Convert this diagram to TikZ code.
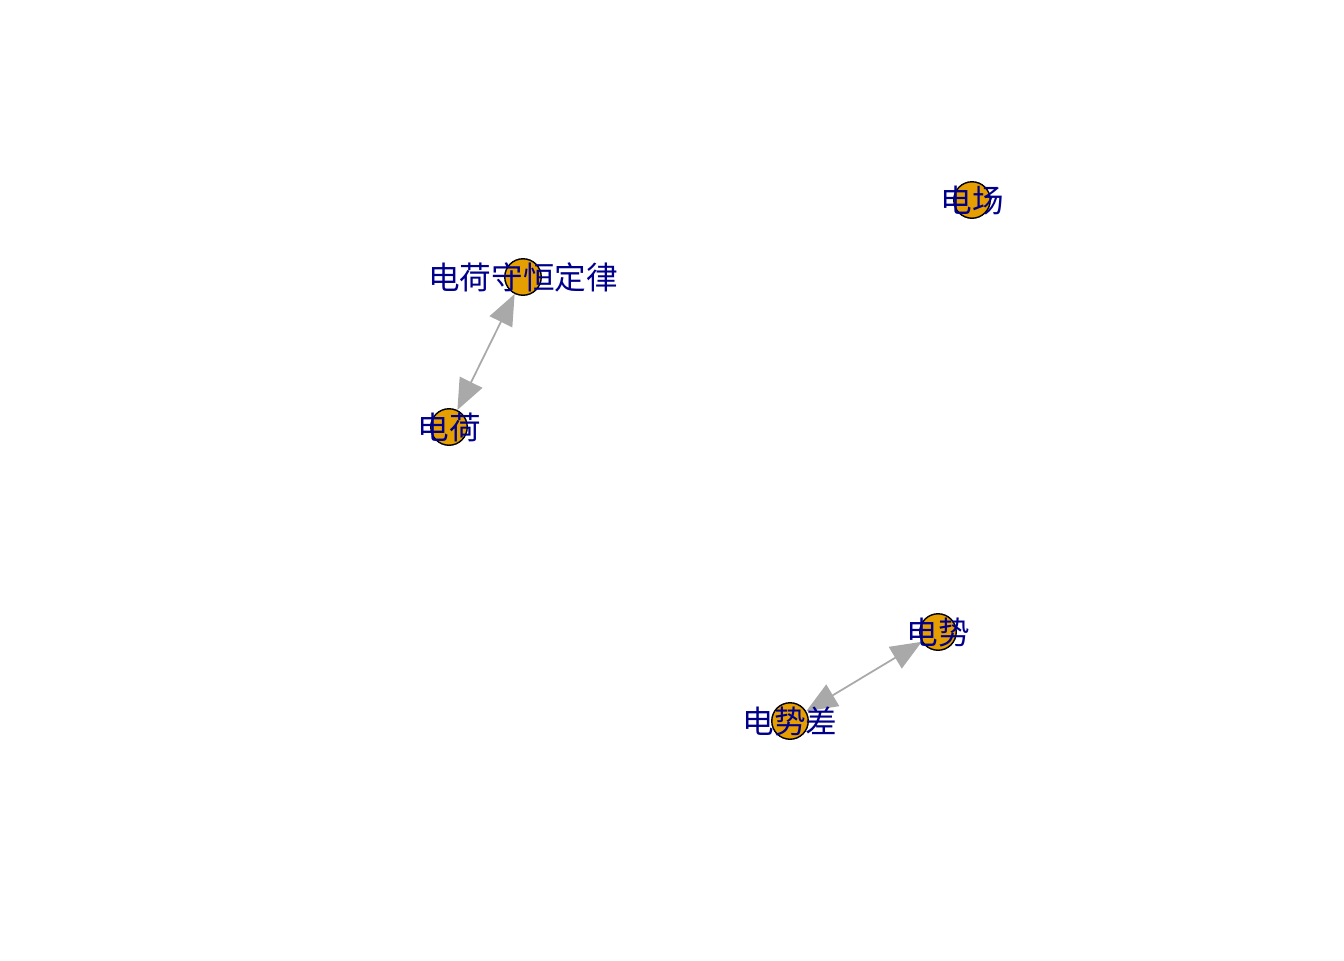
\documentclass[tikz,border=0pt]{standalone}
\usepackage{fontspec}
\newfontfamily\cjk{Noto Sans CJK SC}
\usetikzlibrary{arrows.meta}
\definecolor{vtxorange}{RGB}{230,159,0}
\definecolor{lbldarkblue}{RGB}{0,0,139}
\definecolor{edgegrey}{RGB}{169,169,169}
\tikzstyle{vertex} = [circle, draw=black, line width=0.8pt, fill=vtxorange, minimum size=0.73cm, inner sep=0pt]
\tikzstyle{vlabel} = [text=lbldarkblue, inner sep=0pt, font=\cjk\fontsize{18}{21}\selectfont]
\tikzstyle{biarrow} = [line width=1pt, draw=edgegrey, {Triangle[length=0.62cm,width=0.5cm]}-{Triangle[length=0.62cm,width=0.5cm]}]

\begin{document}
\begin{tikzpicture}[x=0.02cm, y=-0.02cm]
\useasboundingbox (0,0) rectangle (1344,960);
\node (field) [vertex] at (972,200) {};
\node (law) [vertex] at (523,277) {};
\node (charge) [vertex] at (449,427) {};
\node (potential) [vertex] at (938,632) {};
\node (pdiff) [vertex] at (790,721) {};
\draw [biarrow] (law) -- (charge);
\draw [biarrow] (potential) -- (pdiff);
\node [vlabel] at (field) {电场};
\node [vlabel] at (law) {电荷守恒定律};
\node [vlabel] at (charge) {电荷};
\node [vlabel] at (potential) {电势};
\node [vlabel] at (pdiff) {电势差};
\end{tikzpicture}
\end{document}
